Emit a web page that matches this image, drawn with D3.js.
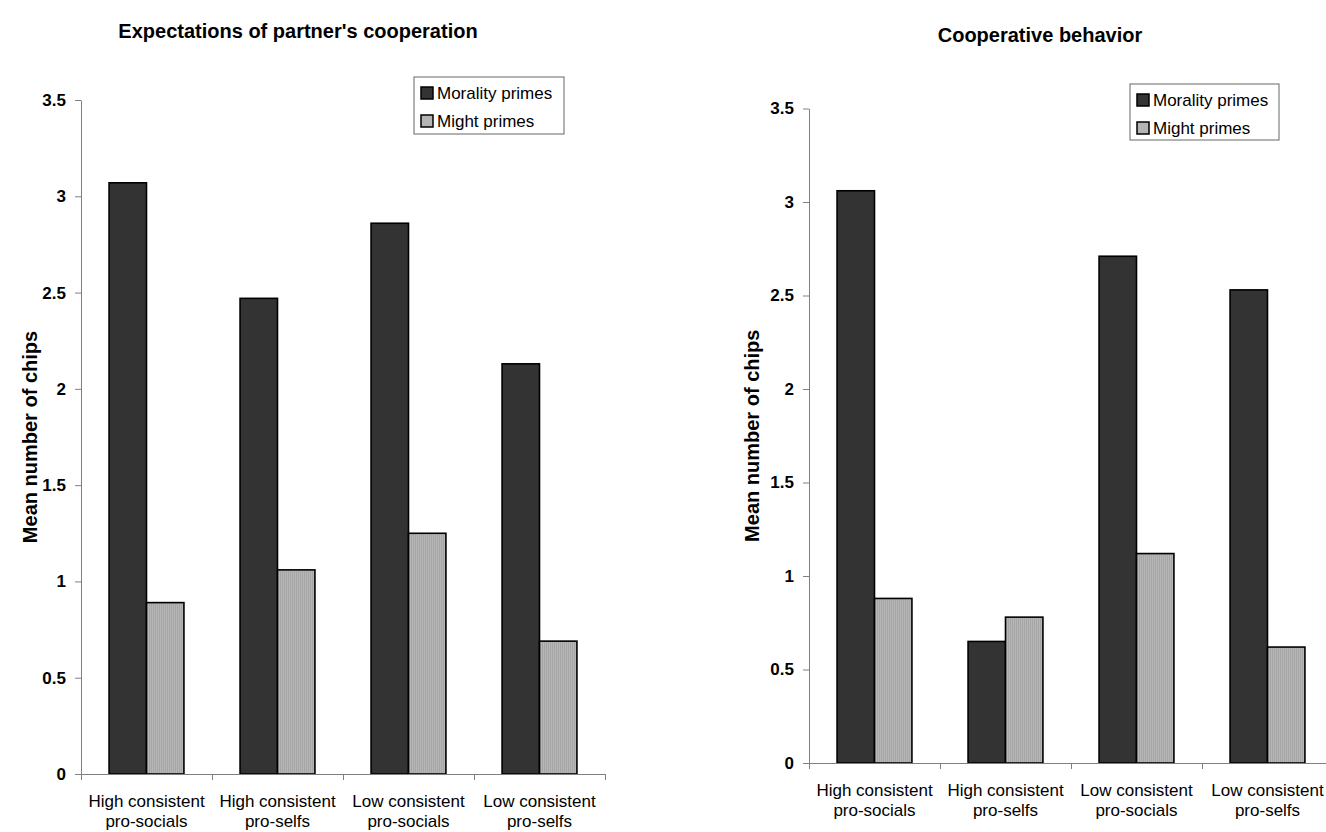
<!DOCTYPE html>
<html>
<head>
<meta charset="utf-8">
<script src="https://cdn.jsdelivr.net/npm/d3@7"></script>
<style>
  html, body { margin: 0; padding: 0; background: #fff; }
  svg { display: block; font-family: "Liberation Sans", Arial, sans-serif; }
</style>
</head>
<body>
<svg id="chart" width="1326" height="832"></svg>
<script>
// Group labels (two lines each)
const categories = [
  ["High consistent", "pro-socials"],
  ["High consistent", "pro-selfs"],
  ["Low consistent", "pro-socials"],
  ["Low consistent", "pro-selfs"]
];
const seriesNames = ["Morality primes", "Might primes"];

// Expectations of partner's cooperation (mean chips)
const expectMorality = [3.07, 2.47, 2.86, 2.13];
const expectMight    = [0.89, 1.06, 1.25, 0.69];

// Cooperative behavior (mean chips)
const behaviorMorality = [3.06, 0.65, 2.71, 2.53];
const behaviorMight    = [0.88, 0.78, 1.12, 0.62];

const yTickValues = [0, 0.5, 1, 1.5, 2, 2.5, 3, 3.5];
const yTickLabels = ["0", "0.5", "1", "1.5", "2", "2.5", "3", "3.5"];

const titles = ["Expectations of partner's cooperation", "Cooperative behavior"];
const yAxisTitle = "Mean number of chips";

const svg = d3.select("#chart");

// Fine vertical hatching used for the "Might primes" bars
const defs = svg.append("defs");
const pat = defs.append("pattern")
  .attr("id", "vstripe")
  .attr("patternUnits", "userSpaceOnUse")
  .attr("width", 2).attr("height", 4);
pat.append("rect").attr("width", 2).attr("height", 4).attr("fill", "#b6b6b6");
pat.append("rect").attr("width", 1).attr("height", 4).attr("fill", "#a6a6a6");

const fills = ["#333333", "url(#vstripe)"];
const legendFills = ["#333333", "#b4b4b4"];

function drawPanel(cfg) {
  const g = svg.append("g");
  const idx = d3.range(categories.length);

  const y = d3.scaleLinear().domain([0, 3.5]).range([cfg.yBottom, cfg.yTop]);
  const x = d3.scaleBand().domain(idx).range([cfg.x0, cfg.x1]).paddingInner(0).paddingOuter(0);
  const xs = d3.scaleBand().domain(seriesNames).range([0, x.bandwidth()])
    .paddingInner(0).paddingOuter(0.75);
  const xEdge = d3.scaleLinear().domain([0, categories.length]).range([cfg.x0, cfg.x1]);

  // Bars
  const rows = idx.map(i => ({ i, vals: [cfg.morality[i], cfg.might[i]] }));
  const grp = g.selectAll(".grp").data(rows).enter().append("g")
    .attr("transform", d => `translate(${x(d.i)},0)`);
  grp.selectAll("rect").data(d => d.vals.map((v, k) => ({ v, k })))
    .enter().append("rect")
    .attr("x", d => xs(seriesNames[d.k]))
    .attr("y", d => y(d.v))
    .attr("width", xs.bandwidth())
    .attr("height", d => y(0) - y(d.v))
    .attr("fill", d => fills[d.k])
    .attr("stroke", "#000")
    .attr("stroke-width", 1.6);

  // Y axis
  const yAxis = d3.axisLeft(y).tickValues(yTickValues)
    .tickFormat((d, i) => yTickLabels[i]).tickSize(6).tickSizeOuter(0).tickPadding(9);
  const ya = g.append("g").attr("transform", `translate(${cfg.x0},0)`).call(yAxis);
  ya.select(".domain").attr("stroke", "#808080");
  ya.selectAll(".tick line").attr("stroke", "#808080");
  ya.selectAll(".tick text").attr("font-size", 17).attr("font-weight", "bold")
    .attr("fill", "#000").attr("font-family", "'Liberation Sans', Arial, sans-serif");

  // X axis with tick marks on category boundaries
  const xAxis = d3.axisBottom(xEdge).tickValues(d3.range(categories.length + 1))
    .tickFormat("").tickSize(6).tickSizeOuter(0);
  const xa = g.append("g").attr("transform", `translate(0,${cfg.yBottom})`).call(xAxis);
  xa.select(".domain").attr("stroke", "#808080");
  xa.selectAll(".tick line").attr("stroke", "#808080");

  // Category labels
  const lab = g.selectAll(".clab").data(categories).enter().append("text")
    .attr("text-anchor", "middle").attr("font-size", 17).attr("fill", "#000");
  lab.each(function (d, i) {
    const t = d3.select(this);
    d.forEach((line, j) => {
      t.append("tspan").attr("x", x(i) + x.bandwidth() / 2)
        .attr("y", cfg.yBottom + 33 + j * 20).text(line);
    });
  });

  // Y axis title
  g.append("text")
    .attr("transform", `translate(${cfg.yTitleX},${(cfg.yTop + cfg.yBottom) / 2}) rotate(-90)`)
    .attr("text-anchor", "middle").attr("dominant-baseline", "central")
    .attr("font-size", 20).attr("font-weight", "bold").text(yAxisTitle);

  // Chart title
  g.append("text").attr("x", cfg.titleX).attr("y", cfg.titleY)
    .attr("text-anchor", "middle").attr("font-size", 20).attr("font-weight", "bold")
    .text(cfg.title);

  // Legend
  const L = cfg.legend;
  const lg = g.append("g").attr("transform", `translate(${L.x},${L.y})`);
  lg.append("rect").attr("width", L.w).attr("height", L.h)
    .attr("fill", "#fff").attr("stroke", "#666").attr("stroke-width", 1);
  seriesNames.forEach((name, k) => {
    const cy = 16 + k * 28;
    lg.append("rect").attr("x", 7).attr("y", cy - 6).attr("width", 12).attr("height", 12)
      .attr("fill", legendFills[k]).attr("stroke", "#000").attr("stroke-width", 1.5);
    lg.append("text").attr("x", 23).attr("y", cy).attr("dominant-baseline", "central")
      .attr("font-size", 17).text(name);
  });
}

drawPanel({
  x0: 81, x1: 605, yTop: 100, yBottom: 774,
  morality: expectMorality, might: expectMight,
  title: titles[0], titleX: 298, titleY: 38, yTitleX: 30,
  legend: { x: 414, y: 77, w: 150, h: 57 }
});

drawPanel({
  x0: 809, x1: 1333, yTop: 108.5, yBottom: 763,
  morality: behaviorMorality, might: behaviorMight,
  title: titles[1], titleX: 1040, titleY: 42, yTitleX: 752,
  legend: { x: 1130, y: 84, w: 149, h: 56 }
});
</script>
</body>
</html>
